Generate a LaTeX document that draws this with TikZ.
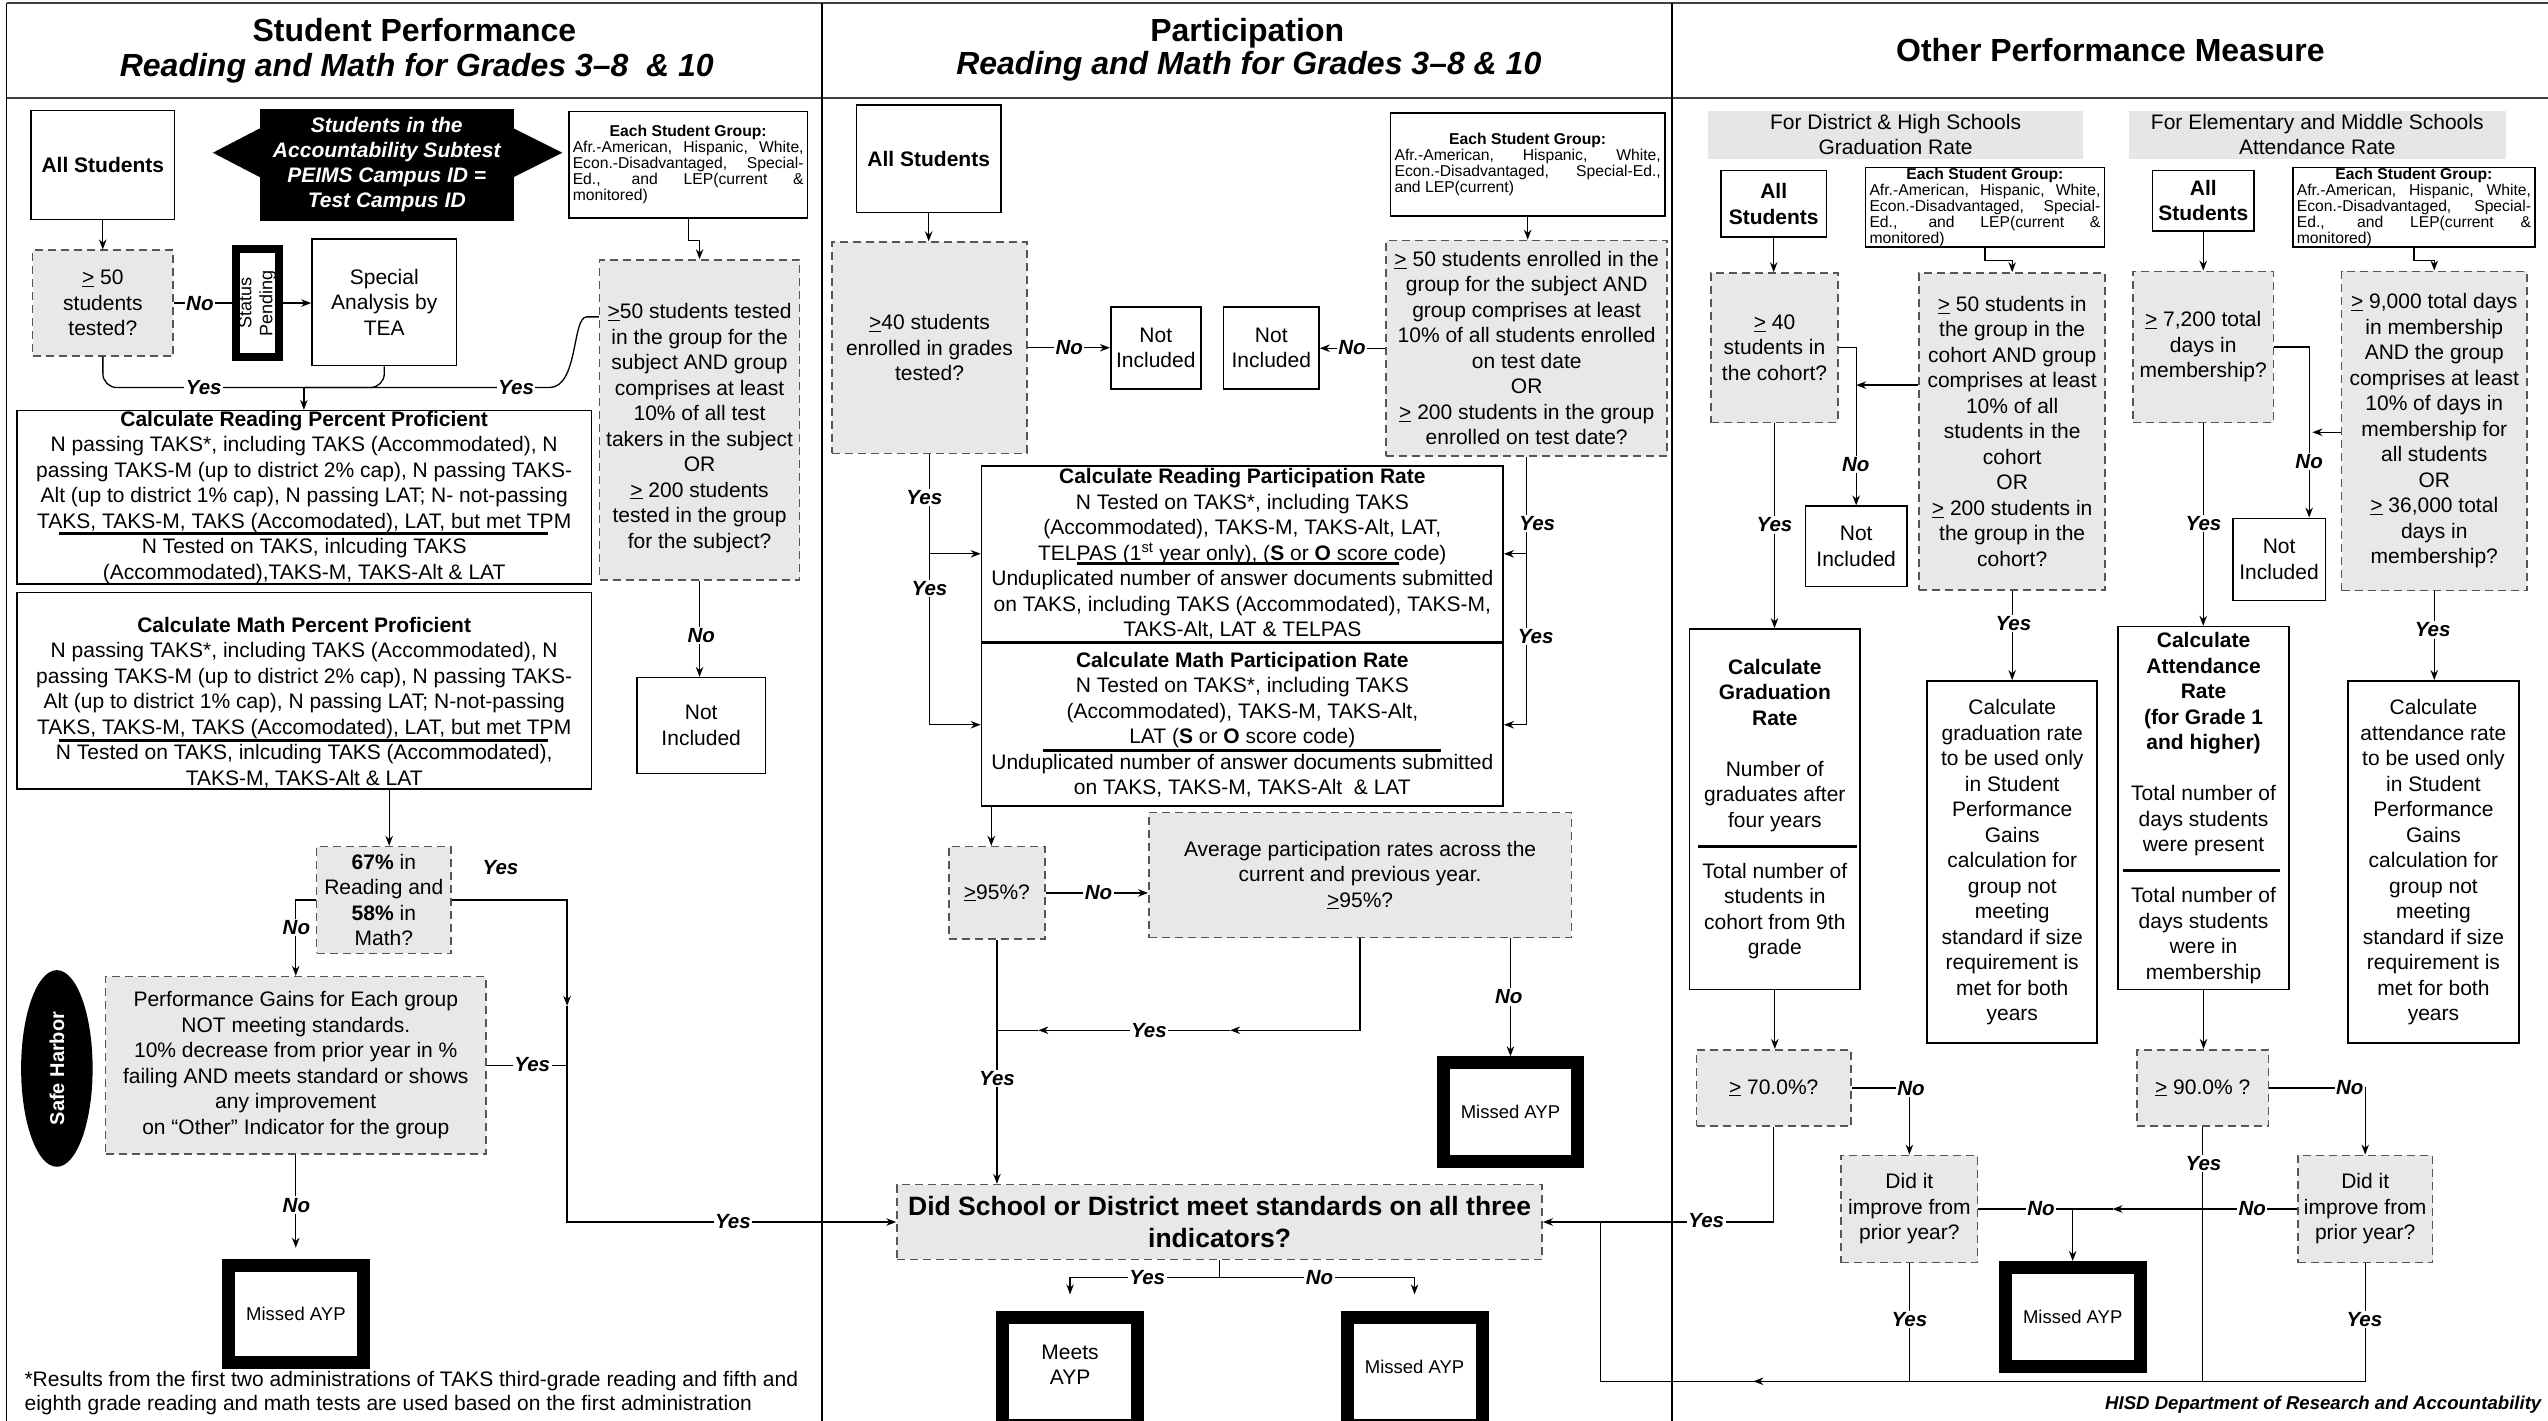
\documentclass[tikz,border=0pt]{standalone}
\usepackage{fontspec}
\setmainfont{Liberation Sans}
\usetikzlibrary{arrows.meta,shapes.geometric,calc}
\definecolor{boxgray}{RGB}{232,232,232}
\definecolor{bandgray}{RGB}{230,230,230}
\definecolor{dashgray}{RGB}{85,85,85}
% box from corner coordinates: style, name, x1, y1, x2, y2, text
\newcommand\bx[7]{\node[#1,minimum width={(#5-#3)*1.625pt},minimum height={(#6-#4)*1.625pt}] (#2) at ({(#3+#5)/2},{(#4+#6)/2}) {#7};}
% heavy black frame given by its outer corners
\newcommand\fr[7][]{\node[aypbox,minimum width={(#5-#3)*1.625pt-13pt},minimum height={(#6-#4)*1.625pt-13pt},#1] (#2) at ({(#3+#5)/2},{(#4+#6)/2}) {#7};}
% small justified student-group box
\newcommand\gbx[6]{\node[grp,text width={(#4-#2)*1.625pt-8pt},minimum height={(#5-#3)*1.625pt}] (#1) at ({(#2+#4)/2},{(#3+#5)/2}) {#6};}
\newcommand\grouptitle{\noindent{\centering\bfseries Each Student Group:\par}\noindent}
\begin{document}
\begin{tikzpicture}[x=1.625pt,y=-1.625pt,font=\fontsize{21}{25.5}\selectfont,
  plain/.style={draw,line width=1.6pt,fill=white,inner sep=0pt,align=center},
  dbox/.style={draw=dashgray,dash pattern=on 8pt off 5pt,line width=1.6pt,fill=boxgray,inner sep=0pt,align=center},
  band/.style={fill=bandgray,inner sep=0pt,align=center,font=\fontsize{21}{25}\selectfont},
  aypbox/.style={draw,line width=13pt,fill=white,inner sep=0pt,align=center,font=\fontsize{18.5}{22}\selectfont},
  grp/.style={draw,line width=1.6pt,fill=white,inner xsep=4pt,inner ysep=0pt,align=justify,font=\fontsize{15.7}{16}\selectfont},
  txt/.style={inner sep=0pt,align=center},
  cn/.style={line width=1.3pt},
  arr/.style={cn,-{Stealth[length=10pt,width=7.5pt]}},
  lbl/.style={fill=white,inner sep=1.5pt,font=\fontsize{20.5}{24}\selectfont\bfseries\itshape},
  hd/.style={inner sep=0pt,font=\fontsize{32}{38}\selectfont\bfseries},
  hdi/.style={inner sep=0pt,font=\fontsize{32}{38}\selectfont\bfseries\itshape},
  frac/.style={line width=3pt}]
\useasboundingbox (0,0) rectangle (1568,874);

% ---------- frame and column headers ----------
\draw[line width=2.5pt,black!75] (4,2) -- (1568,2);
\draw[line width=2pt,black!75] (4,60.5) -- (1568,60.5);
\draw[line width=1.6pt] (4,2) -- (4,880);
\draw[line width=1.6pt] (506,2) -- (506,880);
\draw[line width=1.6pt] (1029,2) -- (1029,880);
\node[hd] at (255,18.5) {Student Performance};
\node[hdi] at (256.5,42) {Reading and Math for Grades 3–8\ \ \& 10};
\node[hd] at (767.5,20.5) {Participation};
\node[hdi] at (768.5,41) {Reading and Math for Grades 3–8 \& 10};
\node[hd] at (1298.7,30.8) {Other Performance Measure};

% ---------- Student Performance ----------
\bx{plain}{allA1}{19}{68}{107.5}{135}{\textbf{All Students}}
\bx{fill=black,inner sep=0pt,align=center,text=white,font=\fontsize{21}{25}\selectfont\bfseries\itshape}{acct}{160}{67}{316}{136}{Students in the\\Accountability Subtest\\PEIMS Campus ID =\\Test Campus ID}
\fill (acct.west |- 0,79) -- (131,94) -- (acct.west |- 0,109) -- cycle;
\fill (acct.east |- 0,79) -- (346,94) -- (acct.east |- 0,109) -- cycle;
\gbx{grp1}{350}{68.7}{497}{134}{\grouptitle Afr.-American, Hispanic, White,\linebreak Econ.-Disadvantaged, Special-\linebreak Ed., and LEP(current \&\linebreak monitored)}
\bx{dbox}{ge50}{20}{154}{106.6}{219}{\underline{>} 50\\students\\tested?}
\node[draw,line width=8pt,fill=white,inner sep=0pt,minimum width={31*1.625pt-8pt},minimum height={71*1.625pt-8pt}] (stat) at (158.5,186.5) {};
\node[txt,rotate=90,font=\fontsize{18}{21}\selectfont] at (stat.center) {Status\\Pending};
\bx{plain}{spec}{192}{147}{281}{225}{Special\\Analysis by\\TEA}
\bx{dbox}{rd1}{369}{160}{492}{357}{}
\node[txt] at (430.5,263.4) {\underline{>}50 students tested\\in the group for the\\subject AND group\\comprises at least\\10\% of all test\\takers in the subject\\OR\\\underline{>} 200 students\\tested in the group\\for the subject?};
\bx{plain}{calcR}{10.4}{252.7}{364}{359.4}{\textbf{Calculate Reading Percent Proficient}\\N passing TAKS*, including TAKS (Accommodated), N\\passing TAKS-M (up to district 2\% cap), N passing TAKS-\\Alt (up to district 1\% cap), N passing LAT; N- not-passing\\TAKS, TAKS-M, TAKS (Accomodated), LAT, but met TPM\\N Tested on TAKS, inlcuding TAKS\\(Accommodated),TAKS-M, TAKS-Alt \& LAT}
\draw[frac] (36,328.6) -- (337,328.6);
\bx{plain}{calcM}{10.4}{364.7}{364}{485.7}{}
\node[txt] at (187.2,432.3) {\textbf{Calculate Math Percent Proficient}\\N passing TAKS*, including TAKS (Accommodated), N\\passing TAKS-M (up to district 2\% cap), N passing TAKS-\\Alt (up to district 1\% cap), N passing LAT; N-not-passing\\TAKS, TAKS-M, TAKS (Accomodated), LAT, but met TPM\\N Tested on TAKS, inlcuding TAKS (Accommodated),\\TAKS-M, TAKS-Alt \& LAT};
\draw[frac] (36,455.8) -- (337,455.8);
\bx{plain}{notI1}{392}{417}{471}{476}{Not\\Included}
\bx{dbox}{g67}{194.8}{521}{277.6}{586.7}{\textbf{67\%} in\\Reading and\\\textbf{58\%} in\\Math?}
\bx{dbox}{pg}{65}{601}{299}{710}{Performance Gains for Each group\\NOT meeting standards.\\10\% decrease from prior year in \%\\failing AND meets standard or shows\\any improvement\\on “Other” Indicator for the group}
\node[ellipse,fill=black,inner sep=0pt,minimum width={44*1.625pt},minimum height={121*1.625pt}] (sh) at (35,657.5) {};
\node[txt,rotate=90,text=white,font=\fontsize{20}{24}\selectfont\bfseries] at (sh.center) {Safe Harbor};
\fr{miss1}{136.8}{774.6}{227.4}{842.6}{Missed AYP}
\node[txt,anchor=west,align=left,font=\fontsize{21}{24}\selectfont] (foot) at (15,857.5) {*Results from the first two administrations of TAKS third-grade reading and fifth and\\eighth grade reading and math tests are used based on the first administration};

% ---------- Participation ----------
\bx{plain}{allS2}{527}{64.6}{616}{130.7}{\textbf{All Students}}
\bx{dbox}{ge40}{512}{149}{632}{279}{\underline{>}40 students\\enrolled in grades\\tested?}
\bx{plain}{ni2a}{683.5}{189}{739}{239.4}{Not\\Included}
\bx{plain}{ni2b}{753}{189}{811.7}{239.4}{Not\\Included}
\gbx{grp2}{855.7}{69.7}{1024.5}{133}{\grouptitle Afr.-American, Hispanic, White,\linebreak Econ.-Disadvantaged, Special-Ed.,\linebreak and LEP(current)}
\bx{dbox}{rd2}{853}{148}{1026}{280.6}{\underline{>} 50 students enrolled in the\\group for the subject AND\\group comprises at least\\10\% of all students enrolled\\on test date\\OR\\\underline{>} 200 students in the group\\enrolled on test date?}
\bx{plain}{calcRP}{604}{286.6}{925}{395}{\textbf{Calculate Reading Participation Rate}\\N Tested on TAKS*, including TAKS\\(Accommodated), TAKS-M, TAKS-Alt, LAT,\\TELPAS (1\textsuperscript{st} year only), (\textbf{S} or \textbf{O} score code)\\Unduplicated number of answer documents submitted\\on TAKS, including TAKS (Accommodated), TAKS-M,\\TAKS-Alt, LAT \& TELPAS}
\draw[frac] (663,347) -- (861,347);
\bx{plain}{calcMP}{604}{396}{925}{496}{\textbf{Calculate Math Participation Rate}\\N Tested on TAKS*, including TAKS\\(Accommodated), TAKS-M, TAKS-Alt,\\LAT (\textbf{S} or \textbf{O} score code)\\Unduplicated number of answer documents submitted\\on TAKS, TAKS-M, TAKS-Alt\ \ \& LAT}
\draw[frac] (642,462) -- (887,462);
\bx{dbox}{ge95}{584}{521}{643}{578}{\underline{>}95\%?}
\bx{dbox}{avg}{707}{500}{967}{577}{Average participation rates across the\\current and previous year.\\\underline{>}95\%?}
\fr{miss2}{884}{650}{975}{719}{Missed AYP}
\bx{dbox,font=\fontsize{26.5}{32.5}\selectfont\bfseries}{didS}{552}{729}{949}{775}{Did School or District meet standards on all three\\indicators?}
\fr{meets}{613}{807}{704}{881}{}
\node[txt] at (658.5,840) {Meets\\AYP};
\fr{missB}{825}{807}{916}{881}{}
\node[txt,font=\fontsize{18.5}{22}\selectfont] at (870.5,841) {Missed AYP};

% ---------- Other Performance Measure ----------
\bx{band}{bandG}{1051}{68.3}{1282}{97.6}{For District \& High Schools\\Graduation Rate}
\bx{band}{bandA}{1310}{68.3}{1542}{97.6}{For Elementary and Middle Schools\\Attendance Rate}
\bx{plain}{allG}{1059}{105}{1124}{146}{\textbf{All}\\\textbf{Students}}
\gbx{grpG}{1148}{103}{1295}{152}{\grouptitle Afr.-American, Hispanic, White,\linebreak Econ.-Disadvantaged, Special-\linebreak Ed., and LEP(current \&\linebreak monitored)}
\bx{plain}{allAt}{1324.7}{105}{1387}{142}{\textbf{All}\\\textbf{Students}}
\gbx{grpA}{1411}{103}{1560}{152}{\grouptitle Afr.-American, Hispanic, White,\linebreak Econ.-Disadvantaged, Special-\linebreak Ed., and LEP(current \&\linebreak monitored)}
\bx{dbox}{ge40c}{1053}{168}{1131}{260}{\underline{>} 40\\students in\\the cohort?}
\bx{dbox}{ge50c}{1181}{168}{1295.5}{363}{\underline{>} 50 students in\\the group in the\\cohort AND group\\comprises at least\\10\% of all\\students in the\\cohort\\OR\\\underline{>} 200 students in\\the group in the\\cohort?}
\bx{plain}{notG}{1111}{311.5}{1173.5}{361}{Not\\Included}
\bx{plain}{calcG}{1039.8}{387}{1144.6}{609}{\textbf{Calculate}\\\textbf{Graduation}\\\textbf{Rate}\\[25.5pt]Number of\\graduates after\\four years\\[25.5pt]Total number of\\students in\\cohort from 9th\\grade}
\draw[frac] (1045,521) -- (1143,521);
\bx{plain}{calcG2}{1186}{419}{1290.6}{642}{Calculate\\graduation rate\\to be used only\\in Student\\Performance\\Gains\\calculation for\\group not\\meeting\\standard if size\\requirement is\\met for both\\years}
\bx{dbox}{ge70}{1044}{646}{1139}{693}{\underline{>} 70.0\%?}
\bx{dbox}{didG}{1133}{711}{1217}{777}{Did it\\improve from\\prior year?}
\fr{miss3}{1230}{776}{1321}{845}{Missed AYP}
\bx{dbox}{ge72}{1312.6}{167}{1399}{260}{\underline{>} 7,200 total\\days in\\membership?}
\bx{plain}{notAt}{1374}{319}{1431}{369.6}{Not\\Included}
\bx{dbox}{ge90k}{1441}{167}{1555}{363.5}{\underline{>} 9,000 total days\\in membership\\AND the group\\comprises at least\\10\% of days in\\membership for\\all students\\OR\\\underline{>} 36,000 total\\days in\\membership?}
\bx{plain}{calcA}{1303.4}{385.6}{1408.6}{609}{\textbf{Calculate}\\\textbf{Attendance}\\\textbf{Rate}\\\textbf{(for Grade 1}\\\textbf{and higher)}\\[25.5pt]Total number of\\days students\\were present\\[25.5pt]Total number of\\days students\\were in\\membership}
\draw[frac] (1306.5,535.6) -- (1403,535.6);
\bx{plain}{calcA2}{1445}{419}{1550}{642}{Calculate\\attendance rate\\to be used only\\in Student\\Performance\\Gains\\calculation for\\group not\\meeting\\standard if size\\requirement is\\met for both\\years}
\bx{dbox}{ge90}{1315}{646}{1396}{693}{\underline{>} 90.0\% ?}
\bx{dbox}{didA}{1414}{711}{1497}{777}{Did it\\improve from\\prior year?}

% ---------- connectors: Student Performance ----------
\draw[arr] (allA1.south) -- (allA1.south |- ge50.north);
\draw[cn] (ge50.east) -- (stat.west);
\draw[arr] (stat.east) -- (stat.east -| spec.west);
\coordinate (m1) at (187,238.5);
\draw[cn,rounded corners=14pt] (ge50.south) |- (m1);
\draw[cn,rounded corners=14pt] (spec.south) |- (m1);
\draw[cn] (rd1.west |- 0,195) -- (361,195) .. controls (352,195) and (356,238.5) .. (338,238.5) -- (m1);
\draw[arr] (m1) -- (m1 |- calcR.north);
\draw[arr] (grp1.south) -- ++(0,13.7) -| (rd1.north);
\draw[arr] (rd1.south) -- (rd1.south |- notI1.north);
\draw[arr] (calcM.south -| 239.5,0) -- (g67.north -| 239.5,0);
\draw[arr] (g67.east) -| (349,619);
\draw[arr] (349,619) |- (didS.west);
\draw[arr] (g67.west) -| (pg.north);
\draw[cn] (pg.east) -- (pg.east -| 349,0);
\draw[arr,shorten >=11pt] (pg.south) -- (pg.south |- miss1.north);
\node[lbl] at (123,186.5) {No};
\node[lbl] at (125.4,238.5) {Yes};
\node[lbl] at (317.6,238.5) {Yes};
\node[lbl] at (431.6,391) {No};
\node[lbl] at (308,534) {Yes};
\node[lbl] at (182.4,570.6) {No};
\node[lbl] at (327.5,654.8) {Yes};
\node[lbl] at (182.4,741.6) {No};
\node[lbl] at (451,752) {Yes};

% ---------- connectors: Participation ----------
\draw[arr] (allS2.south) -- (allS2.south |- ge40.north);
\draw[arr] (ge40.east) -- (ge40.east -| ni2a.west);
\draw[arr] (rd2.west) -- (rd2.west -| ni2b.east);
\draw[arr] (grp2.south) -- (grp2.south |- rd2.north);
\draw[arr] (ge40.south) |- (calcRP.west);
\draw[arr] (ge40.south) |- (calcMP.west);
\draw[arr] (rd2.south) |- (calcRP.east);
\draw[arr] (rd2.south) |- (calcMP.east);
\draw[arr] (calcMP.south -| 610,0) -- (ge95.north -| 610,0);
\draw[arr] (ge95.east) -- (ge95.east -| avg.west);
\draw[arr] (ge95.south) -- (ge95.south |- didS.north);
\draw[arr] (avg.south) |- (757,634);
\draw[arr] (757,634) -- (639,634);
\draw[cn] (639,634) -- (ge95.south |- 0,634);
\draw[arr] (avg.south -| miss2.north) -- (miss2.north);
\coordinate (sp) at (750.5,786);
\draw[cn] (didS.south) -- (sp);
\draw[arr,shorten >=17pt] (sp) -| (meets.north);
\draw[arr,shorten >=17pt] (sp) -| (missB.north);
\node[lbl] at (658,214) {No};
\node[lbl] at (832,214) {No};
\node[lbl] at (568.8,306) {Yes};
\node[lbl] at (572,362) {Yes};
\node[lbl] at (946,322) {Yes};
\node[lbl] at (945,391.8) {Yes};
\node[lbl] at (676,549) {No};
\node[lbl] at (707,634) {Yes};
\node[lbl] at (613.5,663.8) {Yes};
\node[lbl] at (928.5,613.5) {No};
\node[lbl] at (706,786) {Yes};
\node[lbl] at (812,786) {No};

% ---------- connectors: Other Performance Measure ----------
\draw[arr] (allG.south) -- (allG.south |- ge40c.north);
\draw[arr] (grpG.south) -- ++(0,8) -| (ge50c.north);
\draw[arr] (ge40c.east) -| (notG.north);
\draw[arr] (ge50c.west |- 0,237) -- (notG.north |- 0,237);
\draw[arr] (ge40c.south) -- (ge40c.south |- calcG.north);
\draw[arr] (ge50c.south) -- (ge50c.south |- calcG2.north);
\draw[arr] (calcG.south) -- (calcG.south |- ge70.north);
\draw[arr] (ge70.east) -| (didG.north);
\draw[arr] (didG.east) -| (miss3.north);
\draw[arr] (didA.west) -- (didA.west -| 1300,0);
\draw[cn] (didA.west -| 1300,0) -- (miss3.north |- didA.west);
\draw[arr] (allAt.south) -- (allAt.south |- ge72.north);
\draw[arr] (grpA.south) -- ++(0,8) -| (ge90k.north);
\draw[arr] (ge72.east) -| (notAt.north -| 1421,0);
\draw[arr] (ge90k.west |- 0,266) -- (1423,266);
\draw[arr] (ge72.south) -- (ge72.south |- calcA.north);
\draw[arr] (ge90k.south) -- (ge90k.south |- calcA2.north);
\draw[arr] (calcA.south) -- (calcA.south |- ge90.north);
\draw[arr] (ge90.east) -| (didA.north);
\coordinate (jT) at (985,752);
\coordinate (jB) at (985,850);
\draw[arr] (ge70.south) |- (didS.east);
\draw[cn] (didA.south) |- (jB) -- (jT);
\draw[cn] (ge90.south) -- (ge90.south |- jB);
\draw[cn] (didG.south) -- (didG.south |- jB);
\draw[arr] (1100,850) -- (1079,850);
\node[lbl] at (1142,286) {No};
\node[lbl] at (1092,323) {Yes};
\node[lbl] at (1239,383.6) {Yes};
\node[lbl] at (1176,670) {No};
\node[lbl] at (1256,744) {No};
\node[lbl] at (1386,744) {No};
\node[lbl] at (1175,812) {Yes};
\node[lbl] at (1356,716) {Yes};
\node[lbl] at (1455,812) {Yes};
\node[lbl] at (1050,751) {Yes};
\node[lbl] at (1421,284) {No};
\node[lbl] at (1356,322) {Yes};
\node[lbl] at (1497,387.7) {Yes};
\node[lbl] at (1446,669.5) {No};

\node[anchor=east,inner sep=0pt,font=\fontsize{18.6}{22}\selectfont\bfseries\itshape] (credit) at (1564,864.6) {HISD Department of Research and Accountability};
\end{tikzpicture}
\end{document}
